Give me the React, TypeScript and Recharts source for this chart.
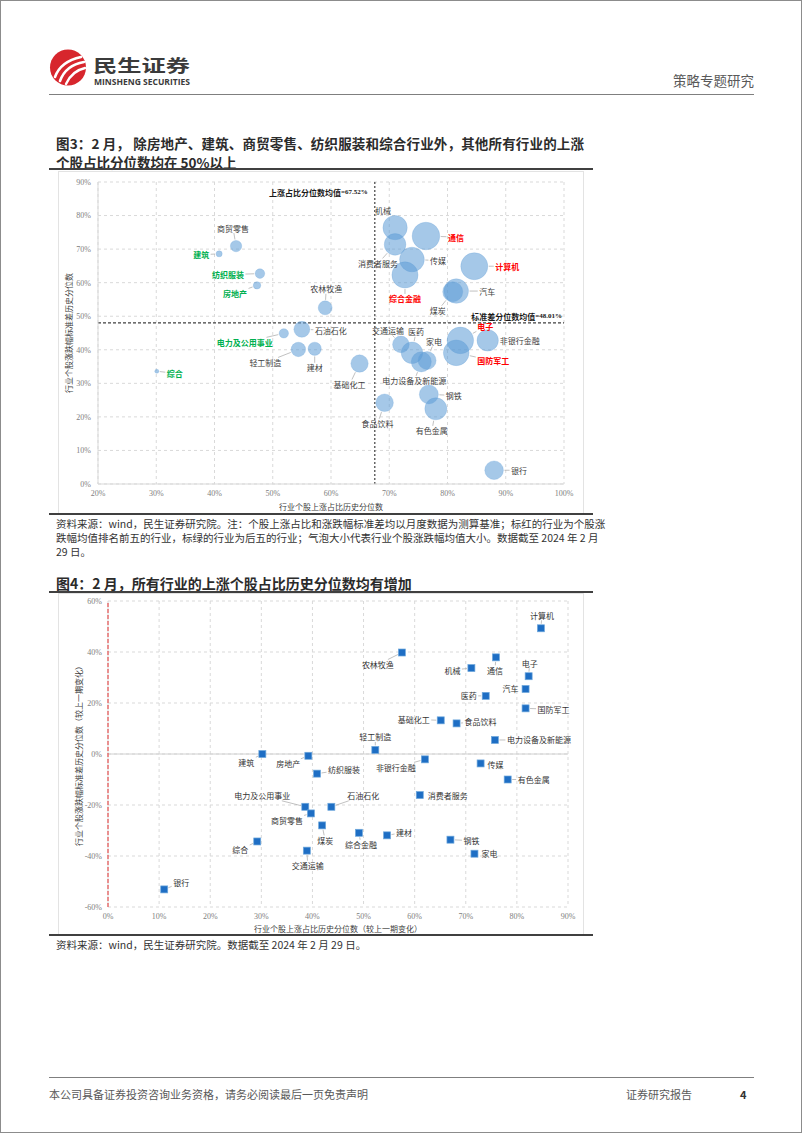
import React from 'react';
import { ScatterChart, Scatter, XAxis, YAxis, ZAxis, CartesianGrid, ReferenceLine } from 'recharts';

const CJK = '"Noto Sans CJK SC", "Noto Sans", sans-serif';
const SERIF = '"Liberation Serif", "DejaVu Serif", serif';

// ---------------- 图3 data ----------------
const INDUSTRIES_3 = ['商贸零售', '建筑', '纺织服装', '房地产', '农林牧渔', '综合', '电力及公用事业', '石油石化', '轻工制造', '建材', '基础化工', '交通运输', '医药', '电力设备及新能源', '家电', '电子', '国防军工', '非银行金融', '钢铁', '有色金属', '食品饮料', '银行', '机械', '消费者服务', '通信', '传媒', '综合金融', '计算机', '汽车', '煤炭'];
const UP_PCTL_3 = [43.7, 40.8, 47.8, 47.3, 59.0, 30.1, 51.9, 55.0, 54.4, 57.2, 64.9, 72.0, 73.9, 75.5, 76.5, 82.2, 81.5, 86.9, 76.8, 78.0, 69.2, 88.0, 71.0, 71.0, 76.3, 73.9, 72.7, 84.6, 81.5, 80.9];
const STD_PCTL_3 = [70.9, 68.6, 62.7, 59.2, 52.5, 33.6, 44.9, 46.1, 40.1, 40.3, 35.9, 41.6, 39.1, 36.4, 36.8, 42.8, 39.1, 42.8, 26.7, 22.4, 24.2, 4.1, 76.4, 71.4, 73.9, 66.9, 62.3, 64.9, 57.5, 57.3];
const AVG_RET_3 = [2.8, 0.8, 2.0, 1.2, 4.2, 0.35, 1.9, 5.5, 4.5, 3.8, 6.5, 6.0, 10.0, 8.7, 7.0, 15.3, 14.3, 9.9, 7.8, 10.5, 6.7, 7.5, 12.8, 10.1, 16.5, 13.2, 14.8, 15.8, 13.0, 8.7];
const TOP5_3 = ['通信', '计算机', '电子', '综合金融', '国防军工'];
const BOTTOM5_3 = ['综合', '建筑', '房地产', '电力及公用事业', '纺织服装'];
const MEAN_UP_PCTL = 67.52;
const MEAN_STD_PCTL = 48.01;
const X_TICKS_3 = [20, 30, 40, 50, 60, 70, 80, 90, 100];
const Y_TICKS_3 = [0, 10, 20, 30, 40, 50, 60, 70, 80, 90];

// ---------------- 图4 data ----------------
const INDUSTRIES_4 = ['计算机', '农林牧渔', '通信', '机械', '电子', '汽车', '医药', '国防军工', '基础化工', '食品饮料', '电力设备及新能源', '轻工制造', '建筑', '房地产', '纺织服装', '电力及公用事业', '商贸零售', '综合', '交通运输', '银行', '石油石化', '煤炭', '综合金融', '建材', '非银行金融', '消费者服务', '传媒', '有色金属', '钢铁', '家电'];
const UP_CHG_4 = [84.7, 57.5, 75.9, 71.1, 82.3, 81.7, 73.9, 81.7, 65.1, 68.2, 75.7, 52.3, 30.2, 39.2, 40.9, 38.6, 39.7, 29.2, 38.9, 11.0, 43.7, 41.9, 49.1, 54.6, 62.0, 61.0, 72.9, 78.2, 67.0, 71.7];
const STD_CHG_4 = [49.3, 39.8, 37.9, 33.7, 30.5, 25.5, 22.8, 17.9, 13.2, 12.0, 5.5, 1.6, 0.0, -0.7, -7.7, -20.7, -23.3, -34.3, -37.9, -53.1, -20.7, -28.0, -30.9, -31.9, -2.1, -16.1, -3.7, -10.0, -33.6, -39.1];
const X_TICKS_4 = [0, 10, 20, 30, 40, 50, 60, 70, 80, 90];
const Y_TICKS_4 = [-60, -40, -20, 0, 20, 40, 60];

// ---------------- label placement (styling only) ----------------
const LABEL_OFFSET_3: Record<string, [number, number]> = {
  '商贸零售': [-3, -18], '建筑': [-18, 1], '纺织服装': [-32, 1], '房地产': [-22, 8], '农林牧渔': [1, -19],
  '综合': [18, 2], '电力及公用事业': [-39, 9], '石油石化': [29, 1], '轻工制造': [-33, 13], '建材': [0, 19],
  '基础化工': [-10, 21], '交通运输': [-13, -14], '医药': [4, -21], '家电': [7, -19], '电力设备及新能源': [-7, 19],
  '电子': [25, -14], '非银行金融': [32, 0], '国防军工': [37, 8], '钢铁': [25, 1], '有色金属': [-4, 22],
  '食品饮料': [-7, 21], '银行': [25, 0], '机械': [-12, -17], '消费者服务': [-17, 19], '通信': [30, 1],
  '传媒': [26, 1], '综合金融': [0, 24], '计算机': [33, 0], '汽车': [31, 0], '煤炭': [-15, 19],
};
const LABEL_OFFSET_4: Record<string, [number, number]> = {
  '计算机': [1, -13], '农林牧渔': [-24, 12], '通信': [-1, 13], '机械': [-19, 2], '电子': [1, -13],
  '汽车': [-15, 0], '医药': [-17, 0], '国防军工': [28, 1], '基础化工': [-27, -1], '食品饮料': [24, -2],
  '电力设备及新能源': [44, 0], '轻工制造': [0, -13], '建筑': [-16, 8], '房地产': [-20, 8], '纺织服装': [27, -4],
  '电力及公用事业': [-43, -11], '商贸零售': [-24, 7], '综合': [-17, 8], '交通运输': [1, 15], '银行': [17, -7],
  '石油石化': [32, -11], '煤炭': [3, 15], '综合金融': [2, 12], '建材': [17, -3], '非银行金融': [-29, 8],
  '消费者服务': [28, 0], '传媒': [15, 1], '有色金属': [26, 0], '钢铁': [21, 1], '家电': [15, 0],
};

const data3 = INDUSTRIES_3.map((name, i) => ({ name, x: UP_PCTL_3[i], y: STD_PCTL_3[i], z: AVG_RET_3[i] }));
const data4 = INDUSTRIES_4.map((name, i) => ({ name, x: UP_CHG_4[i], y: STD_CHG_4[i] }));

const pct = (v: number) => `${v}%`;

function labelShape(
  offsets: Record<string, [number, number]>,
  colorOf: (n: string) => string,
  weightOf: (n: string) => number,
  fixedHalf?: number
) {
  return (p: any) => {
    const name: string = p.payload.name;
    const off = offsets[name] || [0, -14];
    const cx = p.cx;
    const cy = p.cy;
    const r = fixedHalf !== undefined ? fixedHalf : (p.width || 0) / 2;
    const lx = cx + off[0];
    const ly = cy + off[1];
    const fs = 8;
    const hw = (name.length * fs) / 2 + 1.5;
    const hh = fs / 2 + 1;
    const d = Math.hypot(off[0], off[1]) || 1;
    const ux = off[0] / d;
    const uy = off[1] / d;
    const tx = Math.abs(ux) > 1e-6 ? hw / Math.abs(ux) : Infinity;
    const ty = Math.abs(uy) > 1e-6 ? hh / Math.abs(uy) : Infinity;
    const tb = Math.min(tx, ty);
    const sx = cx + ux * (r + 1);
    const sy = cy + uy * (r + 1);
    const ex = lx - ux * tb;
    const ey = ly - uy * tb;
    const len = (ex - sx) * ux + (ey - sy) * uy;
    return (
      <g>
        {len > 2 && <line x1={sx} y1={sy} x2={ex} y2={ey} stroke="#a6a6a6" strokeWidth={0.7} />}
        <text
          x={lx}
          y={ly}
          textAnchor="middle"
          dominantBaseline="central"
          fontSize={fs}
          fontFamily={CJK}
          fontWeight={weightOf(name)}
          fill={colorOf(name)}
        >
          {name}
        </text>
      </g>
    );
  };
}

const color3 = (n: string) => (TOP5_3.includes(n) ? '#FF0000' : BOTTOM5_3.includes(n) ? '#00B050' : '#404040');
const weight3 = (n: string) => (TOP5_3.includes(n) || BOTTOM5_3.includes(n) ? 700 : 400);

const Bubble = (p: any) => (
  <circle cx={p.cx} cy={p.cy} r={(p.width || 0) / 2} fill="#5B9BD5" fillOpacity={0.55} stroke="#5B9BD5" strokeOpacity={0.3} strokeWidth={0.8} />
);
const Square = (p: any) => (
  <rect x={p.cx - 3.5} y={p.cy - 3.5} width={7} height={7} fill="#1E6EC4" stroke="#6FA8DC" strokeWidth={0.7} />
);

const tickStyle = { fontSize: 8, fill: '#808080', fontFamily: SERIF };

const xTitle = (title: string, dy: number) => (props: any) => {
  const vb = props.viewBox || {};
  return (
    <text x={vb.x + vb.width / 2} y={vb.y + dy} textAnchor="middle" dominantBaseline="central" fontSize={8} fontFamily={CJK} fill="#404040">
      {title}
    </text>
  );
};
const yTitle = (title: string, dx: number) => (props: any) => {
  const vb = props.viewBox || {};
  const x = vb.x + dx;
  const y = vb.y + vb.height / 2;
  return (
    <text x={x} y={y} transform={`rotate(-90, ${x}, ${y})`} textAnchor="middle" dominantBaseline="central" fontSize={8} fontFamily={CJK} fill="#404040">
      {title}
    </text>
  );
};

const vRefLabel = (props: any) => {
  const vb = props.viewBox || {};
  return (
    <text x={vb.x - 7} y={vb.y + 10} textAnchor="end" dominantBaseline="central" fontSize={8} fill="#1a1a1a" fontWeight={700}>
      <tspan fontFamily={CJK}>上涨占比分位数均值</tspan>
      <tspan fontFamily={SERIF} fontSize={7}>{`=${MEAN_UP_PCTL.toFixed(2)}%`}</tspan>
    </text>
  );
};
const hRefLabel = (props: any) => {
  const vb = props.viewBox || {};
  return (
    <text x={vb.x + vb.width - 2} y={vb.y - 7} textAnchor="end" dominantBaseline="central" fontSize={8} fill="#1a1a1a" fontWeight={700}>
      <tspan fontFamily={CJK}>标准差分位数均值</tspan>
      <tspan fontFamily={SERIF} fontSize={7}>{`=${MEAN_STD_PCTL.toFixed(2)}%`}</tspan>
    </text>
  );
};

function Chart3() {
  return (
    <ScatterChart width={526} height={343} margin={{ top: 11, right: 20, bottom: 0, left: 0 }}>
      <CartesianGrid strokeDasharray="3 3" stroke="#d9d9d9" />
      <XAxis
        type="number"
        dataKey="x"
        domain={[20, 100]}
        ticks={X_TICKS_3}
        interval={0}
        tickFormatter={pct}
        tick={tickStyle}
        tickLine={false}
        tickSize={0}
        tickMargin={6}
        axisLine={{ stroke: '#d9d9d9' }}
        height={30}
        label={xTitle('行业个股上涨占比历史分位数', 22)}
      />
      <YAxis
        type="number"
        dataKey="y"
        domain={[0, 90]}
        ticks={Y_TICKS_3}
        interval={0}
        tickFormatter={pct}
        tick={tickStyle}
        tickLine={false}
        tickSize={0}
        tickMargin={7}
        axisLine={{ stroke: '#d9d9d9' }}
        width={40}
        label={yTitle('行业个股涨跌幅标准差历史分位数', 10)}
      />
      <ZAxis type="number" dataKey="z" domain={[0, 17]} range={[0, 617]} />
      <ReferenceLine x={MEAN_UP_PCTL} stroke="#404040" strokeWidth={1.2} strokeDasharray="2 2" label={vRefLabel} />
      <ReferenceLine y={MEAN_STD_PCTL} stroke="#404040" strokeWidth={1.2} strokeDasharray="3 2" label={hRefLabel} />
      <Scatter data={data3} shape={Bubble} isAnimationActive={false} />
      <Scatter data={data3} shape={labelShape(LABEL_OFFSET_3, color3, weight3)} isAnimationActive={false} />
    </ScatterChart>
  );
}

function Chart4() {
  return (
    <ScatterChart width={526} height={342} margin={{ top: 8, right: 16, bottom: 0, left: 0 }}>
      <CartesianGrid strokeDasharray="3 3" stroke="#d9d9d9" />
      <XAxis
        type="number"
        dataKey="x"
        domain={[0, 90]}
        ticks={X_TICKS_4}
        interval={0}
        tickFormatter={pct}
        tick={tickStyle}
        tickLine={false}
        tickSize={0}
        tickMargin={6}
        axisLine={false}
        height={28}
        label={xTitle('行业个股上涨占比历史分位数（较上一期变化）', 21)}
      />
      <YAxis
        type="number"
        dataKey="y"
        domain={[-60, 60]}
        ticks={Y_TICKS_4}
        interval={0}
        tickFormatter={pct}
        tick={tickStyle}
        tickLine={false}
        tickSize={0}
        tickMargin={6}
        axisLine={false}
        width={50}
        label={yTitle('行业个股涨跌幅标准差历史分位数（较上一期变化）', 20)}
      />
      <ReferenceLine y={0} stroke="#d0d0d0" strokeWidth={1} />
      <ReferenceLine x={0} stroke="#E46C6C" strokeWidth={1.5} strokeDasharray="4 2" />
      <Scatter data={data4} shape={Square} isAnimationActive={false} />
      <Scatter data={data4} shape={labelShape(LABEL_OFFSET_4, () => '#333333', () => 400, 3.5)} isAnimationActive={false} />
    </ScatterChart>
  );
}

const abs = (l: number, t: number, extra: React.CSSProperties = {}): React.CSSProperties => ({
  position: 'absolute',
  left: l,
  top: t,
  ...extra,
});

const justifyLine: React.CSSProperties = {
  width: 528,
  textAlign: 'justify',
  textAlignLast: 'justify' as any,
  whiteSpace: 'nowrap',
};

export default function App() {
  return (
    <div
      style={{
        position: 'absolute',
        left: 0,
        top: 0,
        width: 802,
        height: 1133,
        overflow: 'hidden',
        background: '#fff',
        boxSizing: 'border-box',
        border: '1px solid #8c8c8c',
        fontFamily: CJK,
      }}
    >
      {/* header */}
      <svg width={150} height={44} style={abs(45, 45)}>
        <circle cx={22} cy={21.5} r={18} fill="#D7262D" />
        <path d="M9 31 C 13 20, 21 14, 35 11" stroke="#fff" strokeWidth={2.6} fill="none" strokeLinecap="round" />
        <path d="M14 35 C 18 24, 26 18, 38 16" stroke="#fff" strokeWidth={2.6} fill="none" strokeLinecap="round" />
        <path d="M20 38 C 24 29, 30 24, 39 22" stroke="#fff" strokeWidth={2.4} fill="none" strokeLinecap="round" />
        <text x={47} y={25.5} fontSize={17} fontWeight={700} fill="#3b3b3b" fontFamily={CJK} textLength={97} lengthAdjust="spacingAndGlyphs">
          民生证券
        </text>
        <text x={48} y={39.2} fontSize={8} fontWeight={700} fill="#3b3b3b" fontFamily={'"Open Sans", "Noto Sans", sans-serif'} textLength={96} lengthAdjust="spacingAndGlyphs">
          MINSHENG SECURITIES
        </text>
      </svg>
      <div style={abs(600, 70, { width: 153, textAlign: 'right', fontSize: 13.5, color: '#595959', lineHeight: '18px' })}>策略专题研究</div>
      <div style={abs(48, 93, { width: 705, height: 0, borderTop: '1.5px solid #7f7f7f' })} />

      {/* Figure 3 title */}
      <div style={abs(55, 131.5, { fontSize: 13.5, fontWeight: 700, color: '#2b2b2b', lineHeight: '20px' })}>
        <div style={justifyLine}>图3：2 月， 除房地产、建筑、商贸零售、纺织服装和综合行业外，其他所有行业的上涨</div>
      </div>
      <div style={abs(55, 151, { fontSize: 13.5, fontWeight: 700, color: '#2b2b2b', lineHeight: '20px', whiteSpace: 'nowrap' })}>
        个股占比分位数均在 50%以上
      </div>
      <div style={abs(48, 167, { width: 544, height: 0, borderTop: '2px solid #404040' })} />

      {/* Chart 3 */}
      <div style={abs(57, 170, { width: 526, height: 343, boxSizing: 'border-box', border: '1px solid #e3e3e3' })} />
      <div style={abs(57, 170)}>
        <Chart3 />
      </div>
      <div style={abs(48, 512, { width: 544, height: 0, borderTop: '2px solid #404040' })} />

      {/* source 3 */}
      <div style={abs(55, 516, { fontSize: 10.5, color: '#333', lineHeight: '14px' })}>
        <div style={justifyLine}>资料来源：wind，民生证券研究院。注：个股上涨占比和涨跌幅标准差均以月度数据为测算基准；标红的行业为个股涨</div>
        <div style={justifyLine}>跌幅均值排名前五的行业，标绿的行业为后五的行业；气泡大小代表行业个股涨跌幅均值大小。数据截至 2024 年 2 月</div>
        <div>29 日。</div>
      </div>

      {/* Figure 4 title */}
      <div style={abs(55, 573, { fontSize: 14, fontWeight: 700, color: '#2b2b2b', lineHeight: '18px', whiteSpace: 'nowrap' })}>
        图4：2 月，所有行业的上涨个股占比历史分位数均有增加
      </div>
      <div style={abs(48, 590, { width: 544, height: 0, borderTop: '2px solid #404040' })} />

      {/* Chart 4 */}
      <div style={abs(57, 592, { width: 526, height: 342, boxSizing: 'border-box', border: '1px solid #e3e3e3' })} />
      <div style={abs(57, 592)}>
        <Chart4 />
      </div>
      <div style={abs(48, 933, { width: 544, height: 0, borderTop: '2px solid #404040' })} />
      <div style={abs(55, 937, { fontSize: 10.5, color: '#333', lineHeight: '14px', whiteSpace: 'nowrap' })}>
        资料来源：wind，民生证券研究院。数据截至 2024 年 2 月 29 日。
      </div>

      {/* footer */}
      <div style={abs(48, 1076, { width: 705, height: 0, borderTop: '1px solid #7f7f7f' })} />
      <div style={abs(48, 1086, { fontSize: 11, color: '#595959', lineHeight: '15px', whiteSpace: 'nowrap' })}>
        本公司具备证券投资咨询业务资格，请务必阅读最后一页免责声明
      </div>
      <div style={abs(625, 1086, { fontSize: 11, color: '#595959', lineHeight: '15px', whiteSpace: 'nowrap' })}>证券研究报告</div>
      <div style={abs(739, 1086, { fontSize: 11, color: '#333', lineHeight: '15px', fontWeight: 700 })}>4</div>
    </div>
  );
}
